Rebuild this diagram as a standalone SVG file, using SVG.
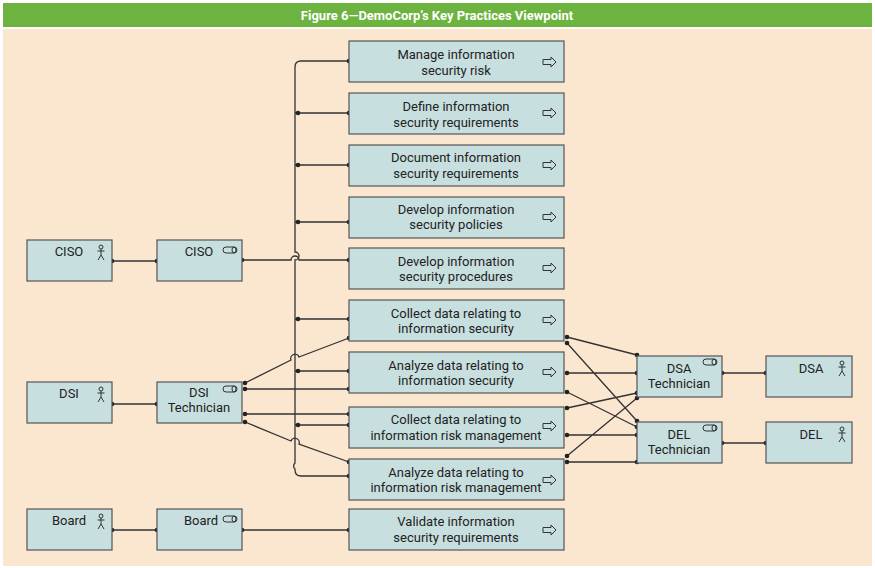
<svg xmlns="http://www.w3.org/2000/svg" width="875" height="568" viewBox="0 0 875 568">
<style>
.n{fill:#c8dfdf;stroke:#555;stroke-width:1.2}
.t{font-family:Roboto,"Liberation Sans",sans-serif;font-size:13px;fill:#222;text-anchor:middle}
.c{fill:none;stroke:#333;stroke-width:1.3}
.ic{fill:none;stroke:#333;stroke-width:1}
.d{fill:#222}
</style>
<defs>
<g id="act"><circle cx="0" cy="-5" r="2" class="ic"/><path d="M0-3V3M-3.5-1H3.5M0 3L-3 8M0 3L3 8" class="ic"/></g>
<g id="role"><rect x="-7" y="-3" width="14" height="6" rx="3" class="ic"/><ellipse cx="4" cy="0" rx="2" ry="3" class="ic"/></g>
<g id="proc"><path d="M-7-2.5H1V-5L6 0L1 5V2.5H-7Z" class="ic"/></g>
<circle id="dt" r="2.3" class="d"/>
</defs>
<rect x="0" y="0" width="875" height="568" fill="#fff"/>
<rect x="3" y="3" width="869" height="24" fill="#6db33f"/>
<text x="437" y="20" class="t" style="fill:#fff;font-weight:bold;font-size:13px">Figure 6—DemoCorp’s Key Practices Viewpoint</text>
<rect x="3" y="29" width="869" height="537" fill="#fbe7d0"/>
<g id="connectors">
<path class="c" d="M349 61H301Q295 61 295 67V252A4 4 0 0 1 295 260V463A4 4 0 0 0 295 469V470Q295 476 301 476H349"/>
<path class="c" d="M295 113H349M295 165H349M295 222H349M295 319H349M295 371H349M295 425H349"/>
<path class="c" d="M242 260H291A4 4 0 0 1 299 260H349"/>
<path class="c" d="M245 383L291 360A4 4 0 0 1 299 357L349 338"/>
<path class="c" d="M245 389H349M245 414H349"/>
<path class="c" d="M245 422L291 441A4 4 0 0 1 299 444L349 462"/>
<path class="c" d="M567 337L637 355M567 343L637 421M567 373H637M567 392L637 427M567 408L637 393M567 435H637M567 456L637 398M567 462H637"/>
<path class="c" d="M722 373H766M722 443H766M112 261H157M112 404H157M112 530H157M242 530H349"/>
<g>
<use href="#dt" x="349" y="61"/><use href="#dt" x="349" y="113"/><use href="#dt" x="349" y="165"/><use href="#dt" x="349" y="222"/><use href="#dt" x="349" y="260"/><use href="#dt" x="349" y="319"/><use href="#dt" x="349" y="338"/><use href="#dt" x="349" y="371"/><use href="#dt" x="349" y="389"/><use href="#dt" x="349" y="414"/><use href="#dt" x="349" y="425"/><use href="#dt" x="349" y="462"/><use href="#dt" x="349" y="476"/><use href="#dt" x="349" y="530"/>
<use href="#dt" x="298" y="113"/><use href="#dt" x="298" y="165"/><use href="#dt" x="298" y="222"/><use href="#dt" x="298" y="319"/><use href="#dt" x="298" y="371"/><use href="#dt" x="298" y="425"/>
<use href="#dt" x="242" y="260"/><use href="#dt" x="245" y="383"/><use href="#dt" x="245" y="389"/><use href="#dt" x="245" y="414"/><use href="#dt" x="245" y="422"/><use href="#dt" x="242" y="530"/>
<use href="#dt" x="112" y="261"/><use href="#dt" x="157" y="261"/><use href="#dt" x="112" y="404"/><use href="#dt" x="157" y="404"/><use href="#dt" x="112" y="530"/><use href="#dt" x="157" y="530"/>
<use href="#dt" x="567" y="337"/><use href="#dt" x="567" y="343"/><use href="#dt" x="567" y="373"/><use href="#dt" x="567" y="392"/><use href="#dt" x="567" y="408"/><use href="#dt" x="567" y="435"/><use href="#dt" x="567" y="456"/><use href="#dt" x="567" y="462"/>
<use href="#dt" x="637" y="355"/><use href="#dt" x="637" y="373"/><use href="#dt" x="637" y="393"/><use href="#dt" x="637" y="398"/><use href="#dt" x="637" y="421"/><use href="#dt" x="637" y="427"/><use href="#dt" x="637" y="435"/><use href="#dt" x="637" y="462"/>
<use href="#dt" x="722" y="373"/><use href="#dt" x="766" y="373"/><use href="#dt" x="722" y="443"/><use href="#dt" x="766" y="443"/>
</g>
</g>
<g id="p1"><rect class="n" x="349" y="41" width="215" height="41"/><text class="t" x="456" y="59">Manage information</text><text class="t" x="456" y="75">security risk</text><use href="#proc" x="550" y="62"/></g>
<g id="p2"><rect class="n" x="349" y="93" width="215" height="41"/><text class="t" x="456" y="111">Define information</text><text class="t" x="456" y="127">security requirements</text><use href="#proc" x="550" y="113"/></g>
<g id="p3"><rect class="n" x="349" y="145" width="215" height="41"/><text class="t" x="456" y="162">Document information</text><text class="t" x="456" y="178">security requirements</text><use href="#proc" x="550" y="165"/></g>
<g id="p4"><rect class="n" x="349" y="197" width="215" height="41"/><text class="t" x="456" y="214">Develop information</text><text class="t" x="456" y="229">security policies</text><use href="#proc" x="550" y="217"/></g>
<g id="p5"><rect class="n" x="349" y="248" width="215" height="41"/><text class="t" x="456" y="266">Develop information</text><text class="t" x="456" y="281">security procedures</text><use href="#proc" x="550" y="268"/></g>
<g id="p6"><rect class="n" x="349" y="300" width="215" height="41"/><text class="t" x="456" y="318">Collect data relating to</text><text class="t" x="456" y="333">information security</text><use href="#proc" x="550" y="320"/></g>
<g id="p7"><rect class="n" x="349" y="352" width="215" height="41"/><text class="t" x="456" y="370">Analyze data relating to</text><text class="t" x="456" y="385">information security</text><use href="#proc" x="550" y="372"/></g>
<g id="p8"><rect class="n" x="349" y="407" width="215" height="41"/><text class="t" x="456" y="424">Collect data relating to</text><text class="t" x="456" y="440">information risk management</text><use href="#proc" x="550" y="426"/></g>
<g id="p9"><rect class="n" x="349" y="459" width="215" height="41"/><text class="t" x="456" y="477">Analyze data relating to</text><text class="t" x="456" y="492">information risk management</text><use href="#proc" x="550" y="480"/></g>
<g id="p10"><rect class="n" x="349" y="509" width="215" height="41"/><text class="t" x="456" y="526">Validate information</text><text class="t" x="456" y="542">security requirements</text><use href="#proc" x="550" y="530"/></g>
<g id="ciso-a"><rect class="n" x="27" y="240" width="85" height="41"/><text class="t" x="69" y="256">CISO</text><use href="#act" x="101" y="252"/></g>
<g id="ciso-r"><rect class="n" x="157" y="240" width="85" height="41"/><text class="t" x="199" y="256">CISO</text><use href="#role" x="230" y="250"/></g>
<g id="dsi-a"><rect class="n" x="27" y="382" width="85" height="41"/><text class="t" x="69" y="398">DSI</text><use href="#act" x="101" y="394"/></g>
<g id="dsi-r"><rect class="n" x="157" y="382" width="85" height="41"/><text class="t" x="199" y="397">DSI</text><text class="t" x="199" y="412">Technician</text><use href="#role" x="230" y="389"/></g>
<g id="board-a"><rect class="n" x="27" y="509" width="85" height="41"/><text class="t" x="69" y="525">Board</text><use href="#act" x="101" y="521"/></g>
<g id="board-r"><rect class="n" x="157" y="509" width="85" height="41"/><text class="t" x="201" y="525">Board</text><use href="#role" x="230" y="519"/></g>
<g id="dsa-r"><rect class="n" x="637" y="356" width="85" height="41"/><text class="t" x="679" y="373">DSA</text><text class="t" x="679" y="388">Technician</text><use href="#role" x="710" y="362"/></g>
<g id="dsa-a"><rect class="n" x="766" y="356" width="86" height="41"/><text class="t" x="811" y="373">DSA</text><use href="#act" x="842" y="368"/></g>
<g id="del-r"><rect class="n" x="637" y="422" width="85" height="41"/><text class="t" x="679" y="439">DEL</text><text class="t" x="679" y="454">Technician</text><use href="#role" x="710" y="428"/></g>
<g id="del-a"><rect class="n" x="766" y="422" width="86" height="41"/><text class="t" x="811" y="439">DEL</text><use href="#act" x="842" y="434"/></g>
</svg>
